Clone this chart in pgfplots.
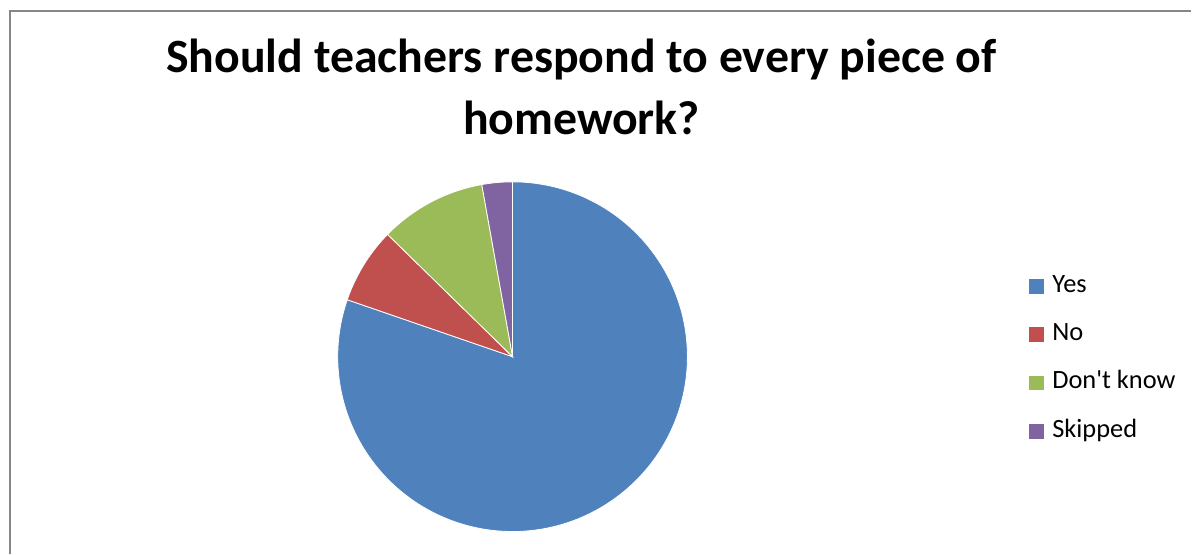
\documentclass[border=0pt]{standalone}
\usepackage{pgfplots}
\pgfplotsset{compat=1.18}
\usepackage{pgfplotstable}
\usepackage{fontspec}
\setmainfont{Carlito}
\definecolor{cYes}{HTML}{4F81BD}
\definecolor{cNo}{HTML}{C0504D}
\definecolor{cDK}{HTML}{9BBB59}
\definecolor{cSk}{HTML}{8064A2}
\definecolor{cBorder}{HTML}{868686}
\pgfplotstableread{
label value
Yes 57
No 5
DontKnow 7
Skipped 2
}\pietable
\pgfplotstablegetelem{0}{value}\of\pietable \let\vA\pgfplotsretval
\pgfplotstablegetelem{1}{value}\of\pietable \let\vB\pgfplotsretval
\pgfplotstablegetelem{2}{value}\of\pietable \let\vC\pgfplotsretval
\pgfplotstablegetelem{3}{value}\of\pietable \let\vD\pgfplotsretval
\pgfmathsetmacro{\tot}{\vA+\vB+\vC+\vD}
\pgfmathsetmacro{\degunit}{360/\tot}
\pgfmathsetmacro{\aA}{90}
\pgfmathsetmacro{\aB}{90-\degunit*\vA}
\pgfmathsetmacro{\aC}{\aB-\degunit*\vB}
\pgfmathsetmacro{\aD}{\aC-\degunit*\vC}
\pgfmathsetmacro{\aE}{\aD-\degunit*\vD}
\begin{document}%
\begin{tikzpicture}
\fill[white] (0,0) rectangle (596bp,277bp);
\draw[cBorder, line width=1bp] (5bp,0bp) -- (5bp,271.25bp) -- (596bp,271.25bp);
\node[anchor=base, font=\fontsize{23.9bp}{28bp}\selectfont\bfseries] at (291bp,240.5bp) {Should teachers respond to every piece of};
\node[anchor=base, font=\fontsize{23.9bp}{28bp}\selectfont\bfseries] at (291bp,209.5bp) {homework?};
\begin{axis}[at={(256.5bp,98.5bp)}, anchor=center,
  width=175bp, height=175bp, scale only axis, hide axis,
  xmin=-1, xmax=1, ymin=-1, ymax=1, clip=false,
  legend image code/.code={\fill[#1,draw=none] (0bp,-3.7bp) rectangle (7.4bp,3.7bp);},
  legend cell align=left,
  legend style={draw=none, fill=none, inner sep=0pt, outer sep=0pt,
    at={(axis description cs:1.9771,0.494)}, anchor=west,
    font=\fontsize{13.2bp}{15bp}\selectfont,
    row sep=12.2bp, column sep=4.2bp,
    nodes={inner sep=0pt, text height=9bp, text depth=3bp}},
]
\addplot[fill=cYes, draw=white, line width=0.4bp, domain=\aB:\aA, samples=200, variable=\t] ({cos(\t)},{sin(\t)}) -- (axis cs:0,0) -- cycle;
\addlegendentry{Yes}
\addplot[fill=cNo, draw=white, line width=0.4bp, domain=\aC:\aB, samples=30, variable=\t] ({cos(\t)},{sin(\t)}) -- (axis cs:0,0) -- cycle;
\addlegendentry{No}
\addplot[fill=cDK, draw=white, line width=0.4bp, domain=\aD:\aC, samples=40, variable=\t] ({cos(\t)},{sin(\t)}) -- (axis cs:0,0) -- cycle;
\addlegendentry{Don\textquotesingle t know}
\addplot[fill=cSk, draw=white, line width=0.4bp, domain=\aE:\aD, samples=15, variable=\t] ({cos(\t)},{sin(\t)}) -- (axis cs:0,0) -- cycle;
\addlegendentry{Skipped}
\end{axis}
\end{tikzpicture}%
\end{document}
